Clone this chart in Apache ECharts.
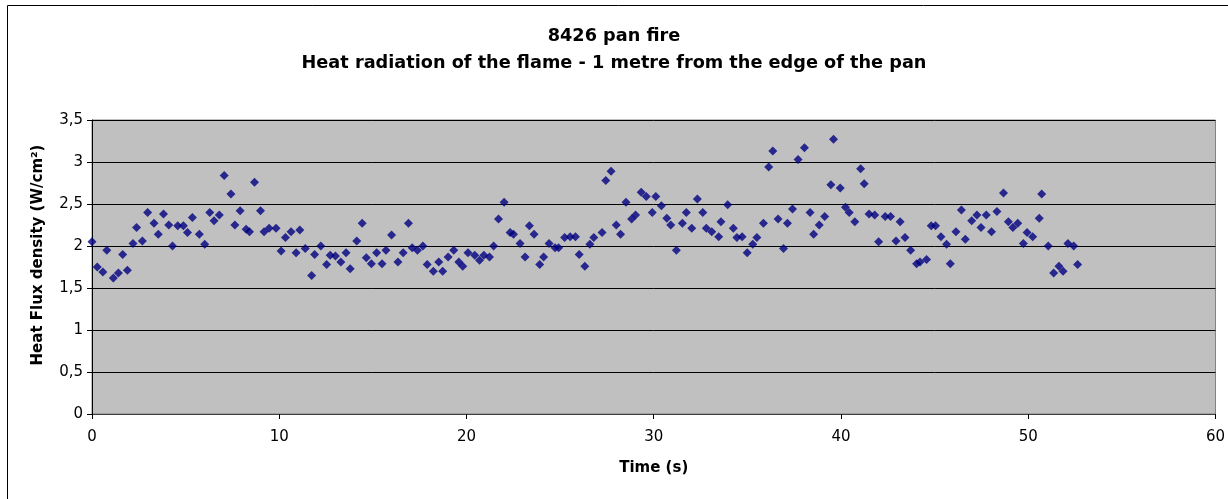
<!DOCTYPE html>
<html>
<head>
<meta charset="utf-8">
<title>8426 pan fire</title>
<script src="https://cdn.jsdelivr.net/npm/echarts@6/dist/echarts.min.js"></script>
<style>
  html, body { margin: 0; padding: 0; background: #fff; }
  #chart { width: 1228px; height: 499px; }
</style>
</head>
<body>
<div id="chart"></div>
<script>
// time (s)
const times = [
  0.00, 0.28, 0.58, 0.79, 1.14, 1.41, 1.64, 1.89, 2.19, 2.38,
  2.69, 2.97, 3.31, 3.54, 3.82, 4.10, 4.30, 4.58, 4.88, 5.10,
  5.36, 5.73, 6.02, 6.29, 6.52, 6.80, 7.06, 7.42, 7.63, 7.91,
  8.23, 8.41, 8.68, 9.00, 9.19, 9.46, 9.83, 10.10, 10.33, 10.63,
  10.90, 11.10, 11.39, 11.73, 11.89, 12.22, 12.53, 12.72, 13.00, 13.29,
  13.57, 13.79, 14.14, 14.43, 14.65, 14.92, 15.20, 15.49, 15.70, 16.00,
  16.34, 16.62, 16.90, 17.10, 17.38, 17.67, 17.90, 18.23, 18.52, 18.73,
  19.02, 19.32, 19.59, 19.80, 20.08, 20.44, 20.70, 20.93, 21.23, 21.45,
  21.71, 22.01, 22.33, 22.51, 22.86, 23.13, 23.36, 23.61, 23.91, 24.12,
  24.41, 24.73, 24.92, 25.24, 25.54, 25.82, 26.02, 26.32, 26.59, 26.80,
  27.24, 27.44, 27.72, 28.00, 28.23, 28.52, 28.82, 29.03, 29.33, 29.60,
  29.92, 30.11, 30.41, 30.70, 30.91, 31.21, 31.53, 31.74, 32.03, 32.33,
  32.62, 32.81, 33.10, 33.47, 33.59, 33.95, 34.25, 34.44, 34.72, 34.99,
  35.29, 35.51, 35.86, 36.14, 36.36, 36.64, 36.93, 37.14, 37.41, 37.71,
  38.05, 38.35, 38.54, 38.84, 39.13, 39.46, 39.60, 39.96, 40.24, 40.44,
  40.74, 41.05, 41.24, 41.50, 41.80, 42.01, 42.36, 42.65, 42.94, 43.16,
  43.42, 43.72, 44.04, 44.22, 44.57, 44.82, 45.05, 45.34, 45.64, 45.84,
  46.14, 46.43, 46.64, 46.98, 47.26, 47.48, 47.76, 48.04, 48.33, 48.68,
  48.94, 49.18, 49.44, 49.74, 49.94, 50.24, 50.59, 50.72, 51.07, 51.36,
  51.64, 51.86, 52.12, 52.43, 52.64
];

// heat flux density (W/cm²)
const flux = [
  2.05, 1.75, 1.69, 1.95, 1.62, 1.68, 1.90, 1.71, 2.03, 2.22,
  2.06, 2.40, 2.27, 2.14, 2.38, 2.25, 2.00, 2.24, 2.24, 2.16,
  2.34, 2.14, 2.02, 2.40, 2.30, 2.37, 2.84, 2.62, 2.25, 2.42,
  2.20, 2.17, 2.76, 2.42, 2.17, 2.21, 2.21, 1.94, 2.10, 2.17,
  1.92, 2.19, 1.97, 1.65, 1.90, 2.00, 1.78, 1.89, 1.88, 1.81,
  1.92, 1.73, 2.06, 2.27, 1.86, 1.79, 1.92, 1.79, 1.95, 2.13,
  1.81, 1.92, 2.27, 1.98, 1.95, 2.00, 1.78, 1.70, 1.81, 1.70,
  1.87, 1.95, 1.81, 1.76, 1.92, 1.89, 1.83, 1.89, 1.87, 2.00,
  2.32, 2.52, 2.16, 2.14, 2.03, 1.87, 2.24, 2.14, 1.78, 1.87,
  2.03, 1.98, 1.98, 2.10, 2.11, 2.11, 1.90, 1.76, 2.02, 2.10,
  2.16, 2.78, 2.89, 2.25, 2.14, 2.52, 2.32, 2.37, 2.64, 2.59,
  2.40, 2.59, 2.48, 2.33, 2.25, 1.95, 2.27, 2.40, 2.21, 2.56,
  2.40, 2.21, 2.17, 2.11, 2.29, 2.49, 2.21, 2.10, 2.11, 1.92,
  2.02, 2.10, 2.27, 2.94, 3.13, 2.32, 1.97, 2.27, 2.44, 3.03,
  3.17, 2.40, 2.14, 2.25, 2.35, 2.73, 3.27, 2.69, 2.46, 2.40,
  2.29, 2.92, 2.74, 2.38, 2.37, 2.05, 2.35, 2.35, 2.06, 2.29,
  2.10, 1.95, 1.79, 1.81, 1.84, 2.24, 2.24, 2.11, 2.02, 1.79,
  2.17, 2.43, 2.08, 2.30, 2.37, 2.22, 2.37, 2.17, 2.41, 2.63,
  2.29, 2.22, 2.27, 2.03, 2.16, 2.11, 2.33, 2.62, 2.00, 1.68,
  1.76, 1.70, 2.03, 2.00, 1.78
];

const titleLines = ["8426 pan fire", "Heat radiation of the flame - 1 metre from the edge of the pan"];
const FONT = "'DejaVu Sans', Arial, sans-serif";

const chart = echarts.init(document.getElementById("chart"), null, { renderer: "canvas" });

chart.setOption({
  backgroundColor: "#ffffff",
  animation: false,
  title: {
    text: titleLines.join("\n"),
    left: "center",
    top: 18,
    textStyle: {
      fontFamily: FONT,
      fontSize: 17.7,
      fontWeight: "bold",
      color: "#000",
      lineHeight: 27,
    },
  },
  graphic: [
    {
      type: "rect",
      shape: { x: 7.5, y: 5.5, width: 1240, height: 520 },
      style: { fill: null, stroke: "#000", lineWidth: 1 },
      silent: true,
      z: -1,
    },
  ],
  grid: {
    left: 92,
    right: 6,
    top: 120,
    bottom: 85,
    show: true,
    backgroundColor: "#C0C0C0",
    borderColor: "#808080",
    borderWidth: 1,
  },
  xAxis: {
    type: "value",
    min: 0,
    max: 60,
    interval: 10,
    name: "Time (s)",
    nameLocation: "middle",
    nameGap: 47,
    nameTextStyle: { fontFamily: FONT, fontSize: 15, fontWeight: "bold", color: "#000" },
    axisLine: { show: true, lineStyle: { color: "#404040", width: 1 } },
    axisTick: { show: true, inside: false, length: 5, lineStyle: { color: "#000" } },
    axisLabel: { margin: 16, fontFamily: FONT, fontSize: 15, color: "#000" },
    splitLine: { show: false },
  },
  yAxis: {
    type: "value",
    min: 0,
    max: 3.5,
    interval: 0.5,
    name: "Heat Flux density (W/cm²)",
    nameLocation: "middle",
    nameGap: 46,
    nameTextStyle: {
      fontFamily: FONT,
      fontSize: 15,
      fontWeight: "bold",
      color: "#000",
      padding: [0, 0, 0, 24],
    },
    axisLine: { show: true, lineStyle: { color: "#000", width: 1 } },
    axisTick: { show: true, inside: false, length: 5, lineStyle: { color: "#000" } },
    axisLabel: {
      margin: 9,
      fontFamily: FONT,
      fontSize: 15,
      color: "#000",
      formatter: (v) => String(v).replace(".", ","),
    },
    splitLine: { show: true, lineStyle: { color: "#000", width: 1 } },
  },
  series: [
    {
      type: "scatter",
      symbol: "diamond",
      symbolSize: 9,
      itemStyle: { color: "#000080" },
      data: times.map((t, i) => [t, flux[i]]),
    },
  ],
});
</script>
</body>
</html>
